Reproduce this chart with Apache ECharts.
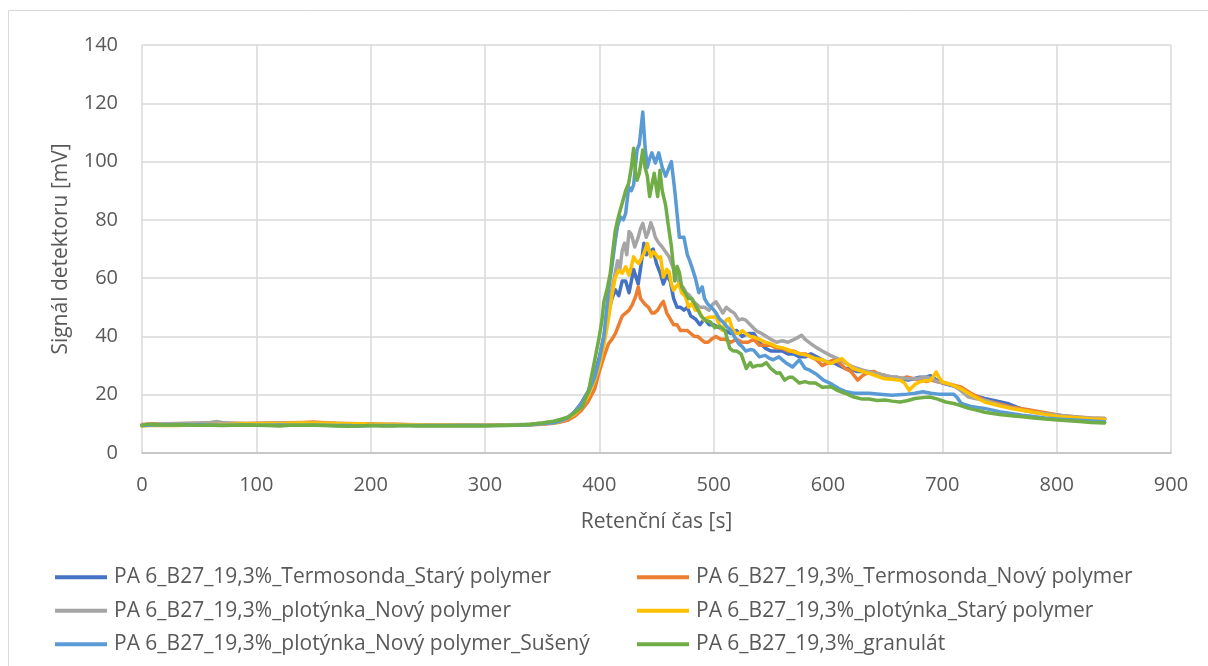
<!DOCTYPE html>
<html>
<head>
<meta charset="utf-8">
<script src="https://cdn.jsdelivr.net/npm/echarts@6/dist/echarts.min.js"></script>
<style>
  html, body { margin: 0; padding: 0; background: #fff; }
  #chart { width: 1208px; height: 666px; }
</style>
</head>
<body>
<div id="chart"></div>
<script>
// ---- Data (time [s], signal [mV]) ----
const seriesNames = [
  'PA 6_B27_19,3%_Termosonda_Starý polymer',
  'PA 6_B27_19,3%_Termosonda_Nový polymer',
  'PA 6_B27_19,3%_plotýnka_Nový polymer',
  'PA 6_B27_19,3%_plotýnka_Starý polymer',
  'PA 6_B27_19,3%_plotýnka_Nový polymer_Sušený',
  'PA 6_B27_19,3%_granulát'
];
const seriesColors = ['#4472C4', '#ED7D31', '#A5A5A5', '#FFC000', '#5B9BD5', '#70AD47'];

const xTicks = [0, 100, 200, 300, 400, 500, 600, 700, 800, 900];
const yTicks = [0, 20, 40, 60, 80, 100, 120, 140];

const termosondaStary = [[0,9.5],[10,9.8],[20,9.7],[30,9.9],[40,9.8],[50,9.9],[60,10.0],[70,9.9],[80,9.8],[90,9.8],[100,9.7],[110,9.8],[120,9.7],[130,9.8],[140,9.9],[150,9.9],[160,9.8],[170,9.7],[180,9.6],[190,9.7],[200,9.7],[210,9.6],[220,9.6],[230,9.6],[240,9.5],[250,9.6],[260,9.5],[270,9.6],[280,9.5],[290,9.5],[300,9.5],[310,9.6],[320,9.6],[330,9.7],[340,9.8],[350,10.1],[360,10.5],[366,11],[372,12],[378,14],[384,17],[390,21],[396,27],[400,33],[404,40],[408,48],[411,53],[414,56],[417,54],[420,59],[423,59],[426,55],[430,63],[434,58],[437,66],[439,72],[441,68],[444,69],[447,70],[450,65],[453,62],[456,58],[459,61],[462,59],[465,53],[468,50],[471,50],[474,49],[477,50],[480,47],[484,46],[488,44],[492,46],[496,44],[500,44],[505,43],[510,42],[515,41],[520,42],[525,40],[530,41],[535,41],[540,38],[545,36],[550,35],[555,35],[560,35],[565,34],[570,34],[575,33],[580,33],[585,34],[590,33],[595,32],[600,31],[605,31],[610,30],[615,29],[620,29],[625,28],[630,28],[635,28],[640,27.5],[645,27],[650,26.5],[655,26],[660,26],[665,25.5],[670,25],[675,25.5],[680,26],[685,26],[690,26.5],[695,25],[700,24],[705,23.5],[710,23],[715,22],[720,21],[725,20],[730,19.5],[737,18.7],[745,18],[757,17],[770,15],[780,14.3],[790,13.5],[804,12.8],[820,12],[830,11.7],[842,11.5]];

const termosondaNovy = [[0,9.8],[10,10],[20,9.9],[30,10],[40,10.1],[50,10.2],[60,10.3],[70,10.1],[80,10.2],[90,10.1],[100,10.2],[110,10.3],[120,10.3],[130,10.4],[140,10.5],[150,10.6],[160,10.4],[170,10.2],[180,10.1],[190,10],[200,10],[210,9.9],[220,9.9],[230,9.8],[240,9.7],[250,9.7],[260,9.6],[270,9.6],[280,9.6],[290,9.6],[300,9.5],[310,9.5],[320,9.6],[330,9.6],[340,9.7],[350,9.9],[360,10.2],[366,10.6],[372,11.2],[378,12.5],[384,14.5],[390,17.5],[396,22],[400,28],[404,33],[408,37.5],[411,39],[414,41],[417,44],[420,47],[423,48],[426,49],[429,51],[432,54],[434,57],[436,53],[438,52],[440,51],[443,50],[446,48],[448,48],[451,49],[454,51],[456,52],[459,48],[462,46],[465,44],[468,44],[471,42],[474,42],[477,42],[480,41],[483,40],[486,40],[489,39],[492,38],[495,38],[498,39],[502,40],[506,39],[510,39],[515,38],[520,39],[525,38],[530,38],[535,39],[540,37],[545,37],[550,37],[555,36],[560,36],[565,35],[570,35],[575,34],[580,34],[585,33],[590,32],[595,30],[600,31],[605,32],[610,31],[615,29],[620,28],[626,25],[630,26.5],[636,27.8],[640,28],[645,27],[650,26.5],[656,26],[660,25.5],[665,25.5],[669,26.1],[675,25.5],[680,25],[686,24.5],[690,25],[695,24.5],[703,23.8],[710,23.3],[716,22.7],[725,20.5],[737,18.1],[750,16.8],[760,15.8],[770,15.2],[780,14.5],[790,13.8],[804,12.9],[820,12.3],[830,12],[842,11.8]];

const plotynkaNovy = [[0,9.6],[10,9.9],[20,10],[30,10.1],[40,10.2],[50,10.3],[60,10.5],[65,10.8],[70,10.5],[80,10.2],[90,10.1],[100,10.1],[110,10.2],[120,10.3],[130,10.2],[140,10.3],[150,10.2],[160,10.1],[170,10.1],[180,10],[190,10],[200,9.9],[210,9.8],[220,9.8],[230,9.7],[240,9.7],[250,9.6],[260,9.6],[270,9.6],[280,9.6],[290,9.6],[300,9.6],[310,9.6],[320,9.7],[330,9.8],[340,9.9],[350,10.3],[360,10.8],[366,11.3],[372,12.2],[378,13.8],[384,16.5],[390,20.5],[396,26],[400,32],[404,40],[408,50],[411,56],[414,62],[416,66],[418,63],[420,69.5],[422,72],[424,68],[426,76],[428,75],[431,70.7],[434,74],[436,77],[438,78.8],[441,74],[443,76],[445,79],[447,77],[449,74],[452,72],[455,70.7],[458,69],[461,67.3],[464,64],[467,61.7],[470,58],[473,57],[476,55],[479,54],[482,52],[484,51.4],[488,50],[492,50],[496,49],[499,51],[502,51.9],[505,50],[508,48],[511,50],[514,49],[518,48],[522,45.6],[525,46],[528,45.6],[532,44],[537,42],[542,41],[546,40],[550,39],[555,38],[560,38.5],[565,38],[569,38.7],[573,39.5],[577,40.4],[580,39],[585,37.5],[589,36.4],[595,35],[602,33.5],[608,32.5],[616,30.7],[622,29.5],[630,28.5],[636,27.8],[645,27],[656,26.1],[663,25.8],[669,25.5],[677,25.5],[686,26.1],[691,25.5],[696,24.4],[703,24],[710,23.2],[716,21.5],[723,19.2],[730,18.6],[737,18.1],[750,16.5],[760,15.5],[770,14.7],[780,14],[790,13.5],[804,12.9],[820,12.3],[830,12],[842,11.8]];

const plotynkaStary = [[0,9.3],[10,9.5],[20,9.4],[30,9.4],[40,9.5],[50,9.7],[60,9.8],[70,9.8],[80,9.9],[90,10],[100,10],[110,10.1],[120,10.1],[130,10.2],[140,10.3],[150,10.3],[160,10.2],[170,10.1],[180,10],[190,10],[200,9.9],[210,9.9],[220,9.8],[230,9.7],[240,9.7],[250,9.6],[260,9.6],[270,9.6],[280,9.5],[290,9.5],[300,9.5],[310,9.5],[320,9.6],[330,9.6],[340,9.8],[350,10],[360,10.4],[366,10.9],[372,11.8],[378,13.2],[384,15.5],[390,19.5],[396,25],[400,30],[404,37],[408,46],[411,54],[414,60.4],[417,62.7],[420,61.7],[423,63.9],[426,61],[428,64],[430,67.3],[432,66],[434.5,65],[437,67],[439,68.5],[442,71.9],[445,67.3],[447,69],[449,68.5],[451,67],[453.5,67.3],[456,60.4],[459,63],[461,62.2],[463,58],[465,55.9],[467,57],[469.6,58.2],[472,55],[475.4,53.6],[478,50],[481,51.3],[484,49],[487,49],[489,47.3],[491.6,45.6],[495,46.5],[498.8,46.7],[502,46.7],[505,44],[507.6,42.1],[511,45.6],[513.5,46.1],[516,43],[519,41],[522,41],[525,42],[528,41],[532,40],[535,39.8],[540,39],[545,38],[549,37.6],[555,36.5],[562,35.9],[568,35],[575,34.1],[582,33.5],[589,32.4],[595,32],[602,30.7],[607,31.5],[612,32.4],[617,30.5],[622,29],[630,28],[636,27.3],[642,26.5],[649,25.5],[656,25.3],[663,25],[667,24],[671,21.5],[676,23.5],[680,24.4],[686,24.8],[690,25],[694.7,27.8],[697,26],[700,24.4],[708,23.5],[716,22.1],[725,20],[737,17.5],[750,16.2],[760,15.3],[770,14.7],[780,14],[790,13.2],[804,12.4],[820,12],[830,11.7],[842,11.5]];

const plotynkaSuseny = [[0,9.4],[10,9.6],[20,9.7],[30,9.7],[40,9.6],[50,9.7],[60,9.6],[70,9.5],[80,9.5],[90,9.6],[100,9.5],[110,9.5],[120,9.6],[130,9.5],[140,9.5],[150,9.5],[160,9.5],[170,9.4],[180,9.4],[190,9.3],[200,9.4],[210,9.4],[220,9.4],[230,9.4],[240,9.4],[250,9.4],[260,9.4],[270,9.4],[280,9.4],[290,9.4],[300,9.4],[310,9.4],[320,9.5],[330,9.5],[340,9.7],[350,10],[360,10.4],[366,11],[372,12],[378,13.8],[384,16.5],[390,20.5],[396,26],[400,32],[404,40],[408,56],[411,64],[414,73],[416,78],[418.5,81],[421,80],[423,82.2],[425.7,91.3],[428,90],[430,92],[433,104],[435,106],[438,117],[440,105],[442,98],[444,101],[446,103],[449,99.5],[452,103],[455,98],[458,95],[460,97],[463,100],[466,90],[468,82],[470,74],[472,74],[474,74],[477,68],[479,66],[481,63.7],[484,60],[487,55],[490,57],[492,53],[495,51],[498,50],[501.5,48.4],[505,46],[508,45],[511.7,43.3],[515,42],[518,40],[521.7,37.6],[525,36.5],[528,35],[532,35.5],[535,35.3],[540,33],[545,33.5],[548.7,32.5],[552,32],[557,33],[563,31],[569,29.5],[575,32],[580,29],[584,28.4],[590,27],[596,25],[602,23.9],[610,22],[616,21],[622.5,20.5],[630,20.5],[636,20.5],[645,20.2],[656,19.8],[662,20],[669,20.2],[676,20.5],[683,21],[690,20.5],[696.5,20.2],[703,20.2],[710,20.2],[713,19],[716.6,17],[725,16],[737,15.3],[750,14.2],[760,13.6],[770,13],[780,12.5],[790,12],[804,11.6],[820,11.2],[830,11],[842,10.7]];

const granulat = [[0,9.4],[5,9.9],[10,9.8],[20,9.6],[30,9.7],[40,9.6],[50,9.5],[60,9.5],[70,9.4],[80,9.5],[90,9.6],[100,9.5],[110,9.4],[120,9.3],[130,9.5],[140,9.5],[150,9.5],[160,9.4],[170,9.3],[180,9.2],[190,9.3],[200,9.4],[210,9.3],[220,9.3],[230,9.4],[240,9.3],[250,9.3],[260,9.3],[270,9.3],[280,9.3],[290,9.3],[300,9.3],[310,9.4],[320,9.4],[330,9.6],[340,9.9],[350,10.3],[360,10.9],[366,11.5],[373,12.4],[379,14],[385,15.8],[390.7,21.5],[396.5,33],[400,40],[402.3,45.6],[404,52],[406.7,56],[409.6,61.7],[412,70],[414,76.5],[416,80],[418,83],[420,85.7],[423,90],[425.7,92.6],[428,98],[430,104.6],[432,95],[433,93.6],[435,96],[438,104],[440,98],[442,95],[444,88],[446,92],[448,96],[451,88],[453,97],[455,90],[458,85],[460,79],[463,71],[466,59],[468,64],[470,62],[472,57],[475,55],[478,53],[481,53],[485,50],[489,47],[493,45.5],[497,45],[501,43],[505,43.5],[510,42],[514,36],[517,35],[520,35],[524,34],[528.5,29],[532,31],[534,29.5],[538,30],[542,30],[546,31],[550,29],[555,27.4],[558,27.5],[562,25],[566,26],[569,26],[575,24],[580,24.5],[584,24],[589,24],[595,22.6],[602.6,22.7],[608,21.5],[615,20.5],[622.6,19.2],[630,18.5],[636,18.5],[643,18],[650,18.2],[656,17.8],[663,17.5],[670,18],[676,18.7],[683,19],[689,19.2],[696,18.5],[703,17.5],[710,17],[716,16.3],[723,15.3],[730,14.7],[737,14],[750,13.2],[760,12.8],[770,12.4],[780,12],[790,11.7],[804,11.2],[820,10.8],[830,10.5],[842,10.3]];

const seriesData = [termosondaStary, termosondaNovy, plotynkaNovy, plotynkaStary, plotynkaSuseny, granulat];

// ---- Chart ----
const FONT = '"Open Sans", "Liberation Sans", sans-serif';
const TXT = '#595959';
const chart = echarts.init(document.getElementById('chart'), null, { renderer: 'canvas' });

chart.setOption({
  animation: false,
  backgroundColor: '#ffffff',
  textStyle: { fontFamily: FONT },
  graphic: [{
    type: 'rect', z: -10, silent: true,
    shape: { x: 8.5, y: 10.5, width: 1400, height: 900 },
    style: { fill: 'none', stroke: '#D9D9D9', lineWidth: 1 }
  }],
  grid: { left: 142, right: 37, top: 45, bottom: 213, containLabel: false },
  legend: {
    data: seriesNames,
    left: 55, top: 565, width: 1200,
    orient: 'horizontal',
    padding: 0,
    itemGap: 9,
    itemWidth: 52, itemHeight: 4,
    icon: 'rect',
    selectedMode: false,
    textStyle: { color: TXT, fontSize: 21, fontFamily: FONT, width: 514, lineHeight: 24.5, padding: [0, 0, 0, 2] }
  },
  xAxis: {
    type: 'value', min: xTicks[0], max: xTicks[xTicks.length - 1], interval: 100,
    name: 'Retenční čas [s]', nameLocation: 'middle', nameGap: 59,
    nameTextStyle: { color: TXT, fontSize: 21, fontFamily: FONT },
    axisLine: { show: true, lineStyle: { color: '#BFBFBF', width: 1.5 } },
    axisTick: { show: false },
    axisLabel: { color: TXT, fontSize: 20, fontFamily: FONT, margin: 22 },
    splitLine: { show: true, lineStyle: { color: '#D9D9D9', width: 1.5 } }
  },
  yAxis: {
    type: 'value', min: yTicks[0], max: yTicks[yTicks.length - 1], interval: 20,
    name: 'Signál detektoru [mV]', nameLocation: 'middle', nameGap: 70,
    nameTextStyle: { color: TXT, fontSize: 21, fontFamily: FONT },
    axisLine: { show: false },
    axisTick: { show: false },
    axisLabel: { color: TXT, fontSize: 20, fontFamily: FONT, margin: 24 },
    splitLine: { show: true, lineStyle: { color: '#D9D9D9', width: 1.5 } }
  },
  series: seriesNames.map((n, i) => ({
    name: n,
    type: 'line',
    data: seriesData[i],
    showSymbol: false,
    symbol: 'none',
    smooth: false,
    color: seriesColors[i],
    lineStyle: { color: seriesColors[i], width: 3.5, cap: 'round', join: 'round' },
    itemStyle: { color: seriesColors[i] },
    emphasis: { disabled: true }
  }))
});
</script>
</body>
</html>
